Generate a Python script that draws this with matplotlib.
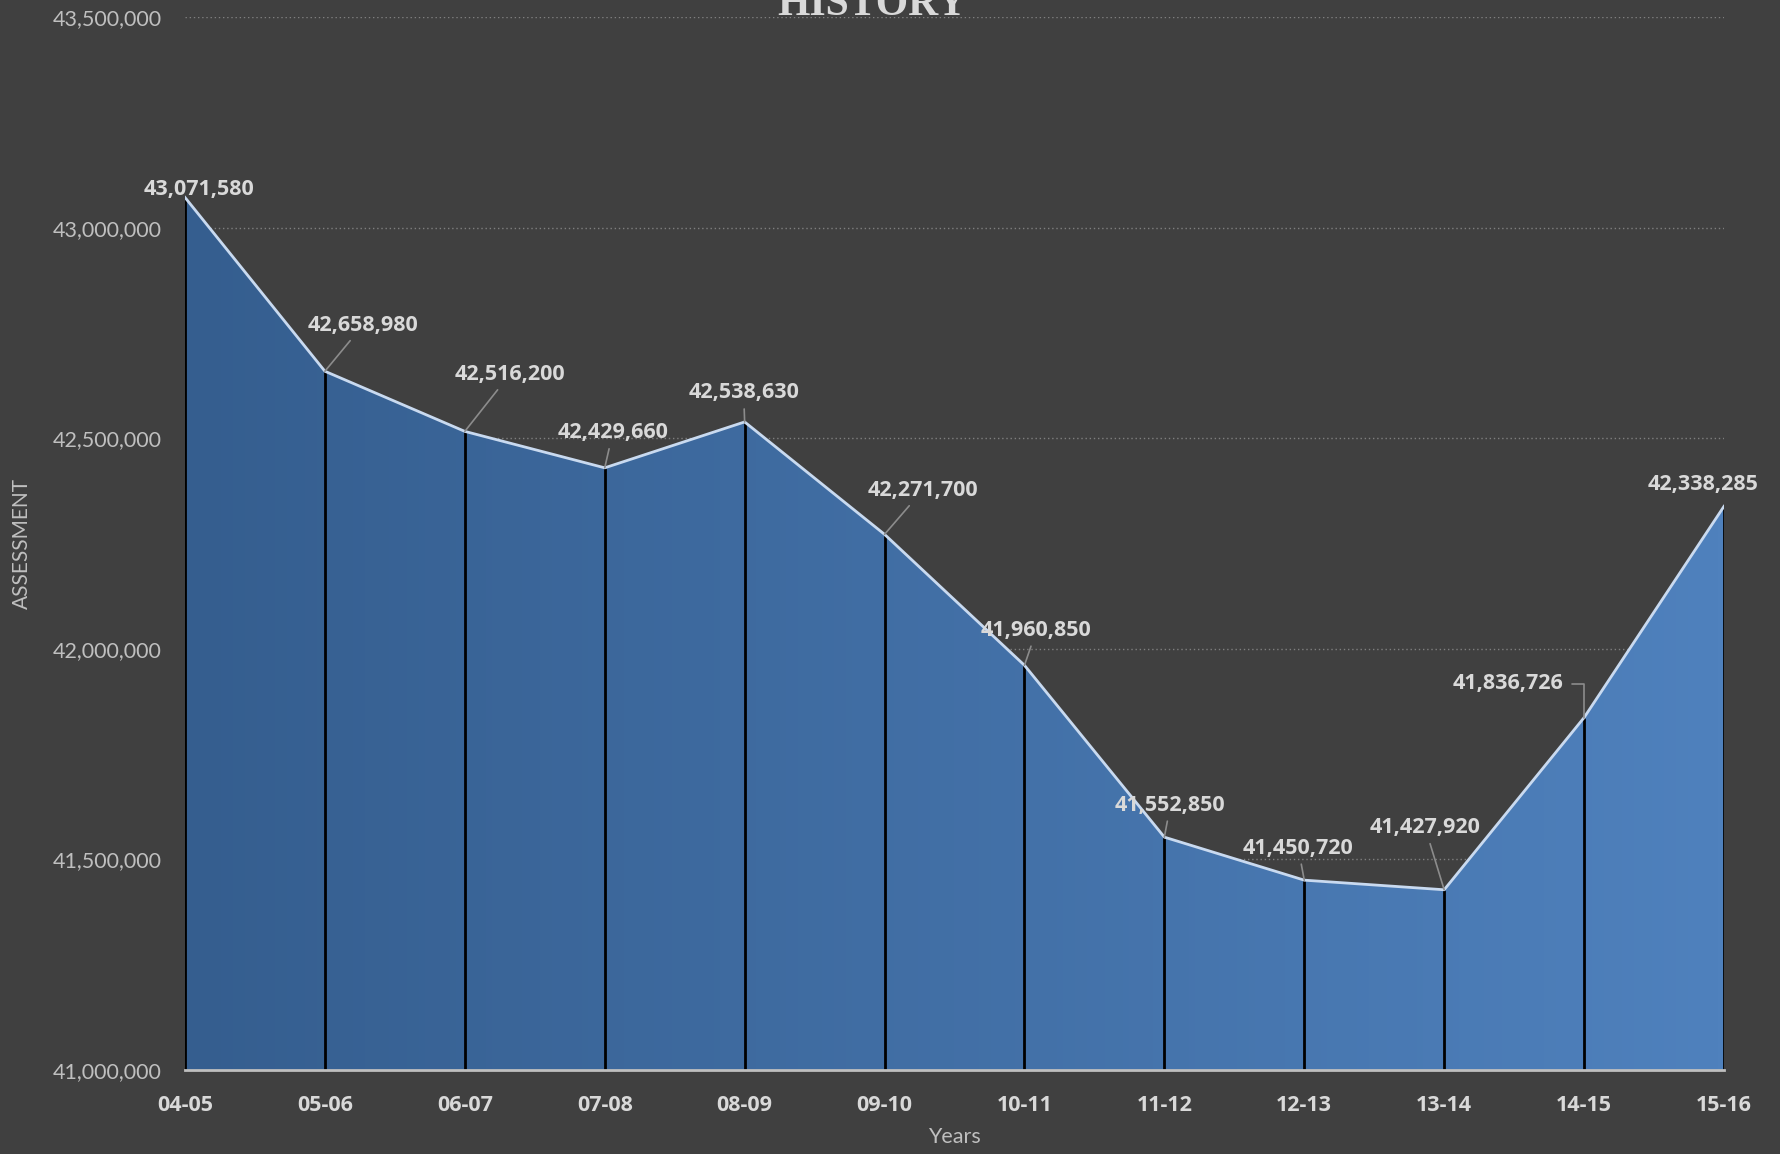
import numpy as np
import matplotlib
matplotlib.use('Agg')
import matplotlib.pyplot as plt
from matplotlib.colors import LinearSegmentedColormap
from matplotlib.ticker import FuncFormatter

years = ['04-05', '05-06', '06-07', '07-08', '08-09', '09-10',
         '10-11', '11-12', '12-13', '13-14', '14-15', '15-16']
assessment = [43071580, 42658980, 42516200, 42429660, 42538630, 42271700,
              41960850, 41552850, 41450720, 41427920, 41836726, 42338285]

# label offsets in pixels (dx, dy) from each point, and the kind of leader line
label_offsets = [(14, 8), (38, 46), (45, 57), (8, 35), (-1, 29), (38, 44),
                 (12, 35), (6, 32), (-6, 32), (-19, 62), (-76, 34), (-21, 22)]
leaders = ['none', 'line', 'line', 'line', 'line', 'line',
           'line', 'line', 'line', 'line', 'elbow', 'none']

bg = '#404040'
plt.rcParams['font.family'] = ['Lato', 'DejaVu Sans']
bold_font = ['Open Sans', 'DejaVu Sans']

fig = plt.figure(figsize=(17.81, 11.54), dpi=100, facecolor=bg)
ax = fig.add_axes([185/1781, 1 - 1070/1154, (1724-185)/1781, (1070-17)/1154])
ax.set_facecolor(bg)

x = np.arange(len(years))
y = np.array(assessment)
ymin, ymax = 41000000, 43500000

# gradient fill under the line
cmap = LinearSegmentedColormap.from_list('blues', ['#355e8f', '#4f81bd'])
grad = np.linspace(0, 1, 256).reshape(1, -1)
img = ax.imshow(grad, cmap=cmap, extent=[0, 11, ymin, ymax], aspect='auto', zorder=1)
poly = ax.fill_between(x, ymin, y, facecolor='none', edgecolor='none', zorder=1)
img.set_clip_path(poly.get_paths()[0], transform=ax.transData)

ax.vlines(x, ymin, y, colors='black', linewidth=2, zorder=2)
ax.plot(x, y, color='#c9daf0', linewidth=2, zorder=3)

ax.set_xlim(0, 11)
ax.set_ylim(ymin, ymax)
ax.set_yticks(np.arange(ymin, ymax + 1, 500000))
ax.yaxis.set_major_formatter(FuncFormatter(lambda v, p: f'{int(v):,}'))
ax.set_xticks(x)
ax.set_xticklabels(years, fontweight='bold', family=bold_font)
ax.set_axisbelow(True)
ax.grid(axis='y', linestyle=(0, (1, 2)), color='#7f7f7f', linewidth=1)
ax.tick_params(length=0)
ax.tick_params(axis='y', labelsize=15.5, labelcolor='#bfbfbf', pad=17)
ax.tick_params(axis='x', labelsize=15.5, labelcolor='#d9d9d9', pad=18)
for s in ['top', 'right', 'left']:
    ax.spines[s].set_visible(False)
ax.spines['bottom'].set_color('#bfbfbf')
ax.spines['bottom'].set_linewidth(2)
ax.spines['bottom'].set_zorder(4)

for i, v in enumerate(assessment):
    dx, dy = label_offsets[i]
    arrow = None
    if leaders[i] == 'line':
        arrow = dict(arrowstyle='-', color='#8c8c8c', lw=1.2, shrinkA=2, shrinkB=0)
    elif leaders[i] == 'elbow':
        arrow = dict(arrowstyle='-', color='#8c8c8c', lw=1.2, shrinkA=4, shrinkB=0,
                     connectionstyle='angle,angleA=0,angleB=90,rad=0')
    ax.annotate(f'{v:,}', (x[i], v), xytext=(dx, dy), textcoords='offset pixels',
                ha='center', va='center', fontsize=15.5, fontweight='bold',
                family=bold_font, color='#d9d9d9', arrowprops=arrow, zorder=5,
                annotation_clip=False)

ax.set_ylabel('ASSESSMENT', fontsize=15, color='#bfbfbf')
ax.yaxis.set_label_coords(-(185-32)/1539, 0.5)
ax.set_xlabel('Years', fontsize=15.5, color='#bfbfbf')
ax.xaxis.set_label_coords(0.5, -(1127-1070)/1053)

fig.text(872/1781, 1 - 15/1154, 'HISTORY', ha='center', va='baseline',
         fontsize=30, fontweight='bold', color='#d9d9d9', family='Liberation Serif')

fig.savefig('out.png', dpi=100, facecolor=bg)
